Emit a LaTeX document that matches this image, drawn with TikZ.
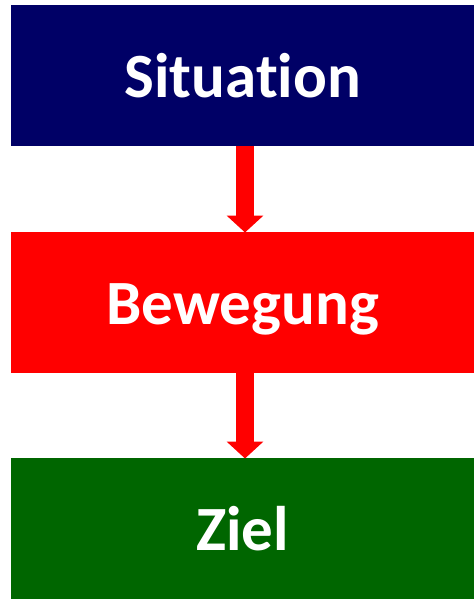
\documentclass[tikz,border=0pt]{standalone}
\usepackage{fontspec}
\setmainfont[Ligatures=NoCommon]{Carlito}
\usetikzlibrary{arrows.meta}
\definecolor{navy}{RGB}{0,0,102}
\definecolor{pure red}{RGB}{255,0,0}
\definecolor{dgreen}{RGB}{0,102,0}
\begin{document}
\begin{tikzpicture}[x=1pt,y=-1pt,
  box/.style={rectangle, minimum width=463pt, minimum height=141pt, inner sep=0pt,
    anchor=north west},
  lbl/.style={text=white, font=\fontsize{63}{70}\selectfont\bfseries,
    inner sep=0pt, text height=40pt, text depth=0pt},
  conn/.style={draw=pure red, line width=18pt,
    -{Triangle[width=36pt,length=17pt]}, shorten >=-0.5pt}
]
\useasboundingbox (0,0) rectangle (474,599);
\node[box, fill=navy] (s) at (11,5) {};
\node[box, fill=pure red] (b) at (11,232) {};
\node[box, fill=dgreen] (z) at (11,458) {};
\node[lbl] (st) at ([yshift=-1.5pt]s.center) {Situation};
\node[lbl] (bt) at ([yshift=-1.5pt]b.center) {Bewegung};
\node[lbl] (zt) at ([yshift=-1.5pt]z.center) {Ziel};
\draw[conn] (s.south -| 245,0) -- (b.north -| 245,0);
\draw[conn] (b.south -| 245,0) -- (z.north -| 245,0);
\end{tikzpicture}
\end{document}
